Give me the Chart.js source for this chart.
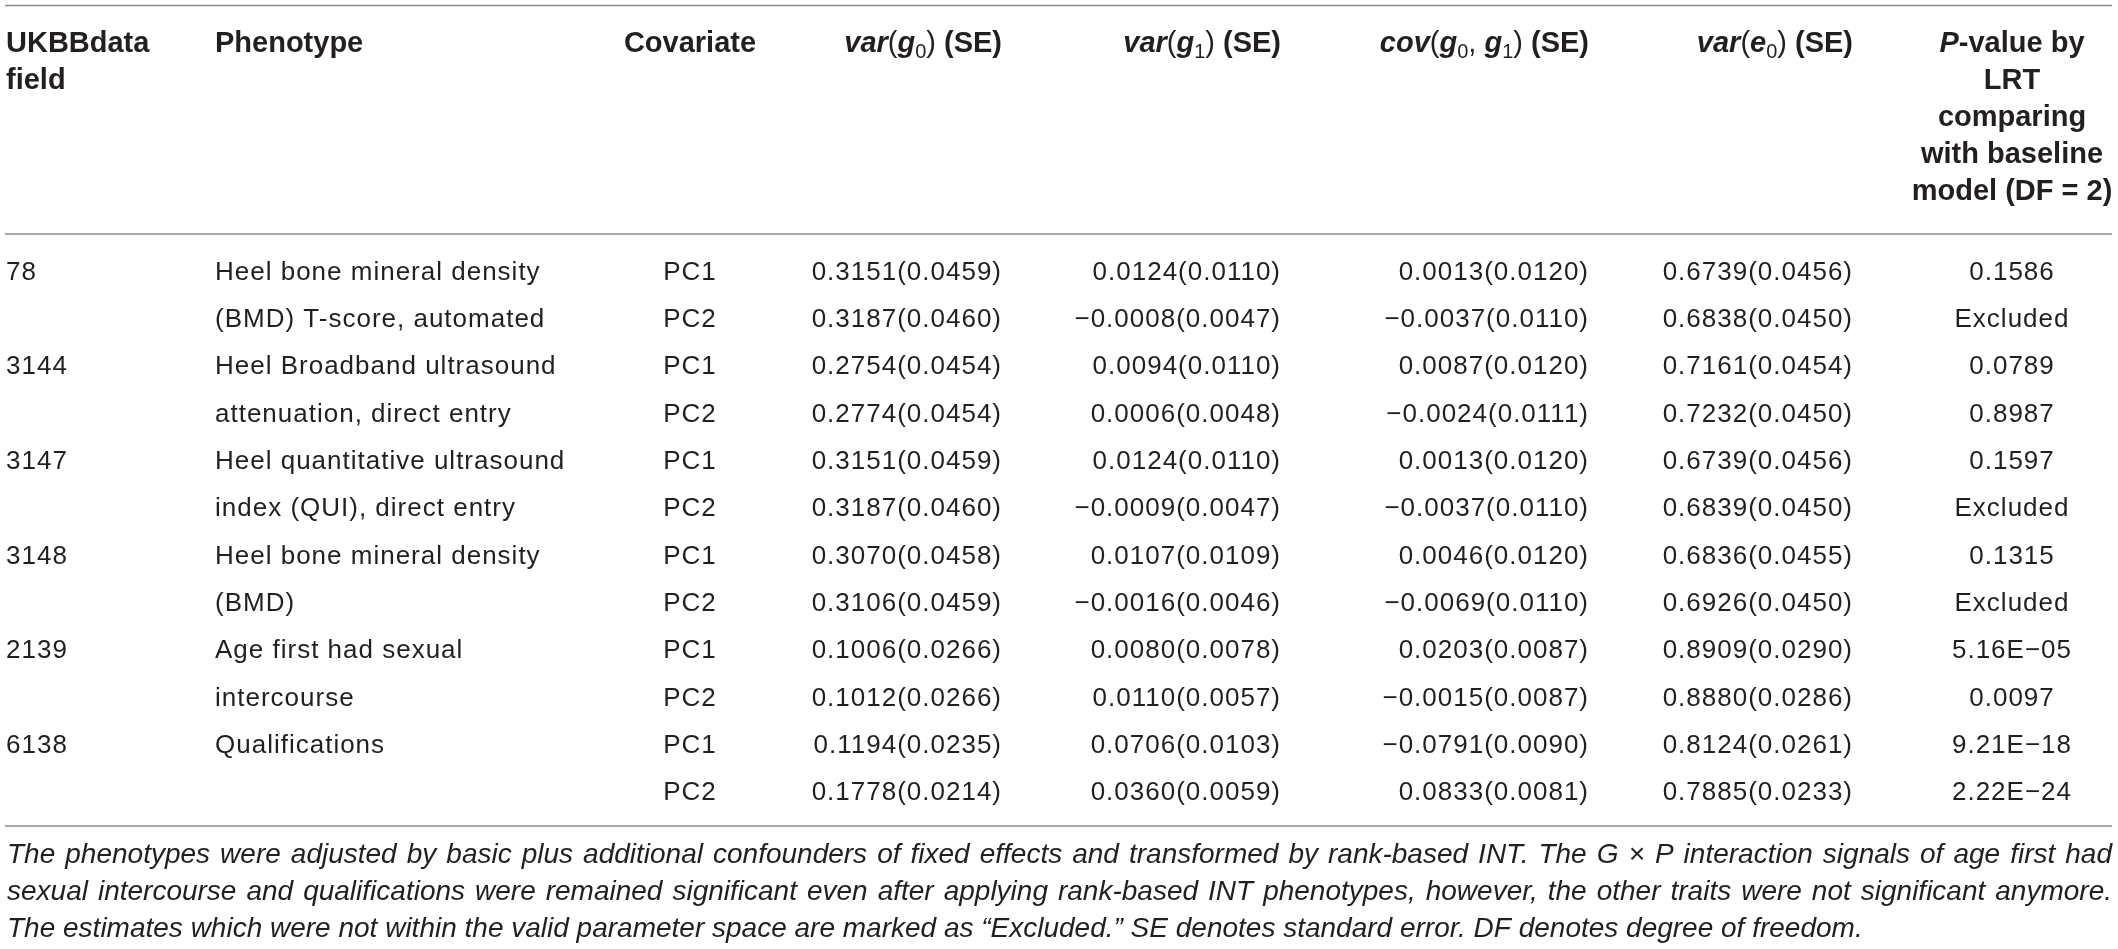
<!DOCTYPE html>
<html>
<head>
<meta charset="utf-8">
<script src="https://cdn.jsdelivr.net/npm/chart.js@4.4.1/dist/chart.umd.min.js"></script>
<style>
  html, body { margin: 0; padding: 0; background: #ffffff; }
  #wrap { width: 2118px; height: 949px; position: relative; }
</style>
</head>
<body>
<div id="wrap"><canvas id="c"></canvas></div>
<script>
// ---------------- DATA ----------------
const fieldIds   = ['78', '', '3144', '', '3147', '', '3148', '', '2139', '', '6138', ''];
const phenotypes = ['Heel bone mineral density', '(BMD) T-score, automated',
                    'Heel Broadband ultrasound', 'attenuation, direct entry',
                    'Heel quantitative ultrasound', 'index (QUI), direct entry',
                    'Heel bone mineral density', '(BMD)',
                    'Age first had sexual', 'intercourse',
                    'Qualifications', ''];
const covariates = ['PC1', 'PC2', 'PC1', 'PC2', 'PC1', 'PC2', 'PC1', 'PC2', 'PC1', 'PC2', 'PC1', 'PC2'];
const varG0  = ['0.3151(0.0459)', '0.3187(0.0460)', '0.2754(0.0454)', '0.2774(0.0454)', '0.3151(0.0459)', '0.3187(0.0460)',
                '0.3070(0.0458)', '0.3106(0.0459)', '0.1006(0.0266)', '0.1012(0.0266)', '0.1194(0.0235)', '0.1778(0.0214)'];
const varG1  = ['0.0124(0.0110)', '\u22120.0008(0.0047)', '0.0094(0.0110)', '0.0006(0.0048)', '0.0124(0.0110)', '\u22120.0009(0.0047)',
                '0.0107(0.0109)', '\u22120.0016(0.0046)', '0.0080(0.0078)', '0.0110(0.0057)', '0.0706(0.0103)', '0.0360(0.0059)'];
const covG0G1 = ['0.0013(0.0120)', '\u22120.0037(0.0110)', '0.0087(0.0120)', '\u22120.0024(0.0111)', '0.0013(0.0120)', '\u22120.0037(0.0110)',
                '0.0046(0.0120)', '\u22120.0069(0.0110)', '0.0203(0.0087)', '\u22120.0015(0.0087)', '\u22120.0791(0.0090)', '0.0833(0.0081)'];
const varE0  = ['0.6739(0.0456)', '0.6838(0.0450)', '0.7161(0.0454)', '0.7232(0.0450)', '0.6739(0.0456)', '0.6839(0.0450)',
                '0.6836(0.0455)', '0.6926(0.0450)', '0.8909(0.0290)', '0.8880(0.0286)', '0.8124(0.0261)', '0.7885(0.0233)'];
const pValues = ['0.1586', 'Excluded', '0.0789', '0.8987', '0.1597', 'Excluded',
                 '0.1315', 'Excluded', '5.16E\u221205', '0.0097', '9.21E\u221218', '2.22E\u221224'];

// Header labels (segments: i = italic, sub = subscript, n = regular weight)
const headerLabels = [
  [[{t: 'UKBBdata'}], [{t: 'field'}]],
  [[{t: 'Phenotype'}]],
  [[{t: 'Covariate'}]],
  [[{t: 'var', i: 1}, {t: '(', n: 1}, {t: 'g', i: 1}, {t: '0', sub: 1}, {t: ')', n: 1}, {t: ' (SE)'}]],
  [[{t: 'var', i: 1}, {t: '(', n: 1}, {t: 'g', i: 1}, {t: '1', sub: 1}, {t: ')', n: 1}, {t: ' (SE)'}]],
  [[{t: 'cov', i: 1}, {t: '(', n: 1}, {t: 'g', i: 1}, {t: '0', sub: 1}, {t: ', ', n: 1}, {t: 'g', i: 1}, {t: '1', sub: 1}, {t: ')', n: 1}, {t: ' (SE)'}]],
  [[{t: 'var', i: 1}, {t: '(', n: 1}, {t: 'e', i: 1}, {t: '0', sub: 1}, {t: ')', n: 1}, {t: ' (SE)'}]],
  [[{t: 'P', i: 1}, {t: '-value by'}], [{t: 'LRT'}], [{t: 'comparing'}], [{t: 'with baseline'}], [{t: 'model (DF = 2)'}]]
];

const footnoteLines = [
  'The phenotypes were adjusted by basic plus additional confounders of fixed effects and transformed by rank-based INT. The G \u00d7 P interaction signals of age first had',
  'sexual intercourse and qualifications were remained significant even after applying rank-based INT phenotypes, however, the other traits were not significant anymore.',
  'The estimates which were not within the valid parameter space are marked as \u201cExcluded.\u201d SE denotes standard error. DF denotes degree of freedom.'
];

const columnValues = [fieldIds, phenotypes, covariates, varG0, varG1, covG0G1, varE0, pValues];

// ---------------- LAYOUT / STYLE ----------------
const colLayout = [
  {x: 6,    align: 'left'},
  {x: 215,  align: 'left'},
  {x: 690,  align: 'center'},
  {x: 1002, align: 'right'},
  {x: 1281, align: 'right'},
  {x: 1589, align: 'right'},
  {x: 1853, align: 'right'},
  {x: 2012, align: 'center'}
];
const FONT = '"Liberation Sans", Arial, Helvetica, sans-serif';
const TEXT = '#231f20';
const RULE = '#8c8c8c';

function drawSegments(ctx, segs, x, y, align) {
  const fontOf = s => s.sub ? ('20px ' + FONT)
                   : ((s.i ? 'italic ' : '') + (s.n ? '' : 'bold ') + '29px ' + FONT);
  let total = 0;
  segs.forEach(s => { ctx.font = fontOf(s); total += ctx.measureText(s.t).width; });
  let cx = align === 'right' ? x - total : align === 'center' ? x - total / 2 : x;
  ctx.textAlign = 'left';
  segs.forEach(s => {
    ctx.font = fontOf(s);
    ctx.fillText(s.t, cx, y + (s.sub ? 6 : 0));
    cx += ctx.measureText(s.t).width;
  });
}

function drawJustified(ctx, text, x0, x1, y) {
  const words = text.split(' ');
  const widths = words.map(w => ctx.measureText(w).width);
  const sum = widths.reduce((a, b) => a + b, 0);
  const gap = (x1 - x0 - sum) / (words.length - 1);
  let cx = x0;
  ctx.textAlign = 'left';
  words.forEach((w, k) => { ctx.fillText(w, cx, y); cx += widths[k] + gap; });
}

const tablePlugin = {
  id: 'tableText',
  afterDatasetsDraw(chart) {
    const ctx = chart.ctx;
    const area = chart.chartArea;
    ctx.save();
    ctx.fillStyle = TEXT;
    ctx.textBaseline = 'alphabetic';

    // rules
    ctx.strokeStyle = RULE;
    ctx.lineWidth = 1.6;
    [5.5, area.top - 13, area.bottom + 11].forEach(yy => {
      ctx.beginPath(); ctx.moveTo(5, yy); ctx.lineTo(2112, yy); ctx.stroke();
    });

    // header
    headerLabels.forEach((lines, c) => {
      lines.forEach((segs, k) => {
        drawSegments(ctx, segs, colLayout[c].x, area.top - 195 + k * 37, colLayout[c].align);
      });
    });

    // body cells, positioned by the chart's own scales
    ctx.font = '26px ' + FONT;
    if ('letterSpacing' in ctx) ctx.letterSpacing = '1px';
    chart.data.datasets.forEach((ds, di) => {
      const meta = chart.getDatasetMeta(di);
      ctx.textAlign = ds.cellAlign;
      meta.data.forEach((pt, i) => {
        const s = ds.cellText[i];
        if (s) ctx.fillText(s, pt.x, pt.y + 9);
      });
    });
    if ('letterSpacing' in ctx) ctx.letterSpacing = '0px';

    // footnote
    ctx.font = 'italic 28px ' + FONT;
    footnoteLines.forEach((line, k) => {
      const y = area.bottom + 48 + k * 37;
      if (k < footnoteLines.length - 1) drawJustified(ctx, line, 7, 2112, y);
      else { ctx.textAlign = 'left'; ctx.fillText(line, 7, y); }
    });
    ctx.restore();
  }
};

const datasets = columnValues.map((vals, c) => ({
  label: 'col' + c,
  data: vals.map((v, i) => ({x: colLayout[c].x, y: i})),
  cellText: vals,
  cellAlign: colLayout[c].align,
  pointRadius: 0,
  pointHoverRadius: 0,
  showLine: false
}));

new Chart(document.getElementById('c'), {
  type: 'scatter',
  data: { datasets },
  options: {
    responsive: true,
    maintainAspectRatio: false,
    animation: false,
    events: [],
    layout: { padding: { left: 0, right: 0, top: 247, bottom: 134 } },
    scales: {
      x: { type: 'linear', min: 0, max: 2118, display: false },
      y: { type: 'linear', min: -0.5, max: fieldIds.length - 0.5, reverse: true, display: false }
    },
    plugins: { legend: { display: false }, tooltip: { enabled: false } }
  },
  plugins: [tablePlugin]
});
</script>
</body>
</html>
